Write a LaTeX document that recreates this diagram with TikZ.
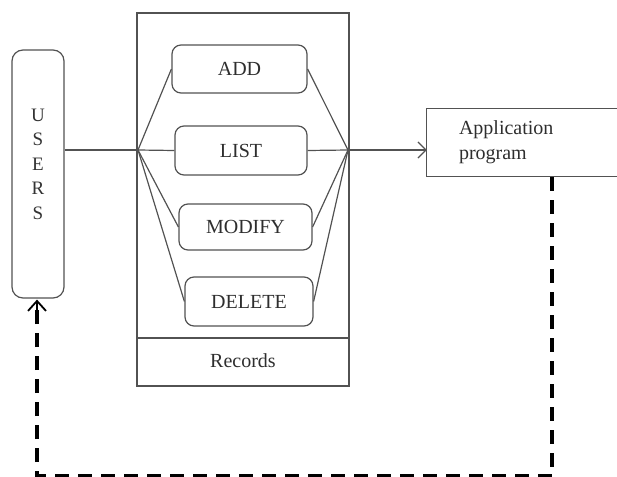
\documentclass[tikz,border=0pt]{standalone}
\usepackage{fontspec}
\setmainfont{Liberation Serif}
\usetikzlibrary{arrows.meta,calc}
\begin{document}
\begin{tikzpicture}[x=1pt,y=-1pt,
  line/.style={draw=black!68,line width=1.2pt},
  txt/.style={text=black!82,font=\fontsize{20}{25}\selectfont},
  proc/.style={line,txt,rounded corners=9pt,inner sep=0pt},
  flow/.style={draw=black,line width=3.5pt,dash pattern=on 14pt off 9pt},
  openarrow/.style={-{Straight Barb[length=10pt,width=18pt,line width=1.8pt]}},
]
\useasboundingbox (0,0) rectangle (617,476);
\clip (0,0) rectangle (617,476);

% USERS
\node[line,rounded corners=11pt,minimum width=52pt,minimum height=248pt,inner sep=0pt] (users) at (38,174) {};
\node[text=black!80,font=\fontsize{19}{24.5}\selectfont,align=center] (userslbl) at (38,164) {U\\S\\E\\R\\S};

% Records container
\node[line,minimum width=212pt,minimum height=373pt,inner sep=0pt] (outer) at (243,199.5) {};
\node[line,minimum width=212pt,minimum height=48pt,inner sep=0pt] (recbox) at (243,362) {};
\node[txt] (rec) at (243,361) {Records};

% operation boxes
\node[proc,minimum width=135pt,minimum height=48pt] (add) at (239.5,69) {ADD};
\node[proc,minimum width=132pt,minimum height=49pt] (list) at (241,150.5) {LIST};
\node[proc,minimum width=133pt,minimum height=46pt] (modify) at (245.5,227) {MODIFY};
\node[proc,minimum width=128pt,minimum height=49pt] (delete) at (249,301.5) {DELETE};

\coordinate (jl) at (138,150);
\coordinate (jr) at (348,150);

% Application program (box runs off the right edge)
\node[txt,minimum width=240pt,minimum height=67pt,inner xsep=32pt,inner ysep=0pt,text width=176pt,align=left] (app) at (547,142.5) {Application\\program};
\draw[line] (app.north east) -- (app.north west) -- (app.south west) -- (app.south east);

% connectors
\draw[line] (users.east |- jl) -- (jl);
\foreach \n in {add,list,modify,delete}{
  \draw[line] (jl) -- (\n.west);
  \draw[line] (\n.east) -- (jr);
}
\draw[line,-{Straight Barb[length=8pt,width=16pt,line width=1.2pt]}] (jr) -- (jr -| app.west);

% dashed feedback
\coordinate (dtop) at (552,177);
\coordinate (dcorner1) at (552,476);
\coordinate (dcorner2) at (37,476);
\draw[flow] (dtop) -- (dcorner1) -- (dcorner2) -- ($(users.south)+(-1,8)$);
\draw[draw=black,line width=2.2pt,openarrow] ($(users.south)+(-1,12)$) -- ($(users.south)+(-1,1)$);
\end{tikzpicture}
\end{document}
